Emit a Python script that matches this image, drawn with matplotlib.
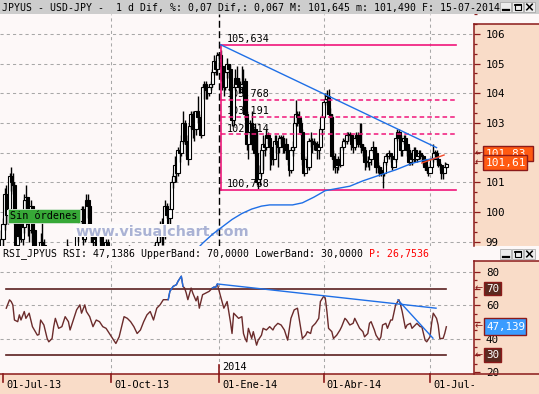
import numpy as np
import pandas as pd
import matplotlib
matplotlib.use("Agg")
import matplotlib.pyplot as plt
from matplotlib.patches import Rectangle
from matplotlib.lines import Line2D
from matplotlib.transforms import blended_transform_factory, offset_copy

plt.rcParams['font.family'] = ['DejaVu Sans Mono']

# ---------------- data ----------------
# USD/JPY daily bars, one [high, low, close] per business day
jun13 = [[98.9, 97.6, 98.8], [99.4, 98.3, 99.1]]
jul13 = [[99.8, 98.6, 99.6], [100.8, 99.4, 100.6], [100.9, 99.6, 99.9], [100.3, 99.6, 100.1],
         [101.3, 99.9, 101.2], [101.5, 100.7, 101.0], [101.3, 100.6, 100.9], [101.0, 99.6, 99.7],
         [99.9, 98.5, 98.9], [99.6, 98.8, 99.2], [100.0, 99.1, 99.9], [100.0, 99.0, 99.1],
         [99.7, 98.9, 99.5], [100.6, 99.3, 100.4], [100.9, 100.1, 100.5], [100.1, 99.2, 99.6],
         [99.7, 99.0, 99.4], [100.4, 99.3, 100.2], [100.2, 99.0, 99.4], [99.4, 98.2, 98.3],
         [98.3, 97.6, 97.9], [98.3, 97.8, 98.0], [98.3, 97.6, 97.9]]
aug13 = [[99.3, 97.8, 99.0], [99.9, 98.8, 98.9], [99.1, 98.1, 98.3], [98.7, 97.6, 97.8],
         [98.0, 96.6, 96.7], [97.0, 96.1, 96.6], [96.9, 96.0, 96.2], [97.0, 95.8, 96.4],
         [98.3, 96.3, 98.1], [98.3, 97.6, 97.9], [98.1, 97.1, 97.3], [97.9, 97.2, 97.6],
         [97.8, 97.3, 97.6], [97.7, 97.0, 97.3], [97.8, 96.8, 97.6], [98.8, 97.6, 98.7],
         [99.1, 98.5, 98.7], [98.9, 98.3, 98.6], [98.6, 96.8, 97.1], [97.9, 96.9, 97.7],
         [98.5, 97.6, 98.3], [98.4, 97.9, 98.2]]
sep13 = [[99.6, 98.4, 99.5], [99.8, 99.0, 99.5], [99.9, 99.2, 99.7], [100.2, 99.3, 100.1],
         [100.2, 98.9, 99.1], [99.8, 99.0, 99.6], [100.6, 99.6, 100.4], [100.6, 99.8, 100.2],
         [100.2, 99.3, 99.5], [99.6, 99.0, 99.4], [99.3, 98.7, 99.0], [99.2, 98.8, 99.1],
         [99.3, 97.8, 97.9], [99.4, 97.8, 99.3], [99.4, 99.0, 99.2], [99.2, 98.6, 98.8],
         [98.9, 98.4, 98.5], [98.8, 98.3, 98.6], [99.1, 98.5, 99.0], [99.1, 98.2, 98.3],
         [98.5, 97.8, 98.3]]
oct13 = [[98.5, 97.6, 98.1], [98.2, 97.2, 97.4], [97.6, 96.9, 97.2], [97.6, 96.9, 97.5],
         [97.5, 96.6, 96.8], [97.3, 96.6, 97.0], [97.9, 96.9, 97.7], [98.4, 97.5, 98.2],
         [98.6, 98.1, 98.6], [98.6, 98.2, 98.4], [98.6, 98.0, 98.2], [98.9, 98.0, 98.7],
         [98.7, 97.6, 97.9], [98.1, 97.6, 97.7], [98.3, 97.7, 98.2], [98.4, 97.7, 98.1],
         [98.1, 97.2, 97.3], [97.6, 97.1, 97.4], [97.6, 97.1, 97.4], [97.8, 97.3, 97.6],
         [98.3, 97.5, 98.1], [98.6, 98.0, 98.3], [98.6, 98.1, 98.4]]
nov13 = [[98.8, 98.2, 98.7], [98.8, 98.3, 98.6], [98.8, 98.3, 98.6], [98.9, 98.4, 98.7],
         [99.0, 97.6, 97.9], [99.1, 97.9, 99.0], [99.3, 98.9, 99.2], [99.7, 99.0, 99.6],
         [99.8, 98.9, 99.2], [99.6, 98.9, 99.2], [100.4, 99.1, 100.2], [100.3, 99.8, 99.9],
         [100.1, 99.6, 99.8], [100.3, 99.4, 100.1], [101.1, 100.1, 101.0], [101.3, 100.8, 101.2],
         [101.9, 101.0, 101.6], [101.7, 101.0, 101.3], [102.2, 101.2, 102.1], [102.3, 101.7, 102.0],
         [102.6, 101.9, 102.4]]
dec13 = [[103.4, 102.3, 103.0], [103.1, 102.3, 102.4], [102.6, 101.9, 102.3], [102.6, 101.6, 101.8],
         [103.0, 101.9, 102.9], [103.4, 102.8, 103.3], [103.4, 102.5, 102.8], [103.0, 102.4, 102.8],
         [103.4, 102.6, 103.4], [103.9, 103.0, 103.2], [103.3, 102.8, 103.0], [103.1, 102.5, 102.6],
         [104.3, 102.6, 104.2], [104.4, 103.8, 104.3], [104.4, 103.8, 104.1], [104.2, 103.8, 104.0],
         [104.3, 103.9, 104.2], [104.4, 104.1, 104.3], [104.8, 104.2, 104.7], [105.3, 104.6, 105.1],
         [105.2, 104.6, 104.8], [105.4, 104.6, 105.3]]
jan14 = [[105.4, 105.1, 105.3], [105.44, 104.4, 104.9], [104.9, 104.1, 104.8], [104.9, 103.9, 104.2],
         [104.8, 104.1, 104.7], [105.2, 104.5, 105.0], [105.0, 104.5, 104.8], [105.0, 103.8, 104.1],
         [104.2, 102.9, 103.1], [104.3, 102.9, 104.2], [104.8, 104.1, 104.5], [104.9, 104.3, 104.3],
         [104.5, 104.0, 104.2], [104.4, 104.0, 104.2], [104.9, 104.0, 104.3], [104.8, 104.2, 104.4],
         [104.5, 103.1, 103.3], [103.4, 102.1, 102.3], [102.8, 101.8, 102.7], [103.1, 102.5, 103.0],
         [103.4, 102.1, 102.3], [103.0, 102.2, 102.8], [103.0, 101.9, 102.0]]
feb14 = [[102.7, 100.9, 101.0], [101.6, 100.76, 101.1], [101.6, 100.9, 101.3], [102.2, 101.2, 102.1],
         [102.6, 101.4, 102.3], [102.5, 101.9, 102.2], [102.8, 102.1, 102.6], [102.7, 102.3, 102.5],
         [102.5, 101.4, 102.2], [102.2, 101.6, 101.8], [102.2, 101.6, 101.8], [102.6, 101.8, 102.4],
         [102.6, 102.0, 102.3], [102.4, 101.5, 102.2], [102.6, 102.0, 102.5], [102.6, 102.3, 102.5],
         [102.6, 102.0, 102.2], [102.5, 102.0, 102.3], [102.5, 101.8, 102.1], [102.1, 101.6, 101.8]]
mar14 = [[101.8, 101.2, 101.4], [102.2, 101.3, 102.1], [102.4, 101.9, 102.2], [103.2, 102.1, 103.0],
         [103.76, 102.9, 103.3], [103.4, 102.9, 103.2], [103.4, 102.9, 103.0], [103.1, 102.6, 102.7],
         [102.8, 101.6, 101.8], [101.9, 101.2, 101.3], [101.8, 101.3, 101.8], [101.9, 101.4, 101.5],
         [102.5, 101.4, 102.4], [102.7, 102.2, 102.4], [102.5, 102.0, 102.3], [102.5, 102.1, 102.3],
         [102.4, 102.1, 102.3], [102.4, 101.8, 102.1], [102.3, 101.8, 102.2], [102.9, 102.2, 102.8],
         [103.3, 102.6, 103.2]]
apr14 = [[103.8, 103.2, 103.7], [104.0, 103.6, 103.8], [104.1, 103.7, 103.9], [104.13, 103.3, 103.3],
         [103.5, 103.0, 103.2], [103.3, 101.8, 101.9], [102.1, 101.4, 101.8], [102.0, 101.3, 101.5],
         [101.8, 101.3, 101.6], [101.9, 101.4, 101.8], [102.2, 101.5, 101.6], [102.3, 101.6, 102.2],
         [102.5, 102.1, 102.4], [102.5, 102.3, 102.4], [102.7, 102.3, 102.6], [102.7, 102.4, 102.6],
         [102.7, 102.4, 102.6], [102.6, 102.1, 102.3], [102.4, 102.0, 102.2], [102.6, 102.1, 102.5],
         [102.7, 102.4, 102.6], [102.7, 102.2, 102.3]]
may14 = [[103.0, 102.2, 102.3], [103.0, 102.0, 102.2], [102.3, 101.9, 102.1], [102.2, 101.4, 101.7],
         [101.9, 101.5, 101.7], [101.9, 101.5, 101.7], [101.9, 101.4, 101.8], [102.2, 101.6, 102.1],
         [102.4, 102.0, 102.2], [102.2, 101.9, 102.0], [102.1, 101.3, 101.5], [101.7, 101.3, 101.5],
         [101.6, 101.2, 101.4], [101.5, 101.2, 101.3], [101.4, 100.82, 101.3], [101.8, 101.2, 101.7],
         [102.0, 101.6, 101.9], [102.0, 101.8, 101.9], [102.1, 101.8, 102.0], [102.0, 101.7, 101.9],
         [101.9, 101.4, 101.5], [101.9, 101.5, 101.8]]
jun14 = [[102.5, 101.7, 102.5], [102.8, 102.4, 102.7], [102.8, 102.5, 102.5], [102.6, 101.9, 102.1],
         [102.5, 101.9, 102.4], [102.6, 102.3, 102.5], [102.6, 102.2, 102.3], [102.3, 101.9, 102.1],
         [102.2, 101.6, 101.7], [102.1, 101.6, 102.0], [102.0, 101.6, 101.8], [102.2, 101.7, 102.1],
         [102.2, 101.7, 101.8], [102.0, 101.7, 101.9], [102.1, 101.8, 102.0], [102.1, 101.8, 101.9],
         [102.0, 101.7, 101.9], [101.9, 101.6, 101.8], [101.8, 101.4, 101.5], [101.6, 101.3, 101.4],
         [101.5, 101.2, 101.3]]
jul14 = [[101.7, 101.3, 101.5], [101.9, 101.5, 101.8], [102.3, 101.7, 102.0], [102.1, 101.9, 102.0],
         [102.1, 101.7, 101.8], [101.8, 101.5, 101.6], [101.7, 101.4, 101.6], [101.6, 101.1, 101.3],
         [101.4, 101.1, 101.3], [101.7, 101.3, 101.5], [101.645, 101.49, 101.61]]
first_open = 97.7

bar_start, bar_end = "2013-06-27", "2014-07-15"
session_zero = "2013-07-01"

# moving average (session number since 01-Jul-13, value)
ma_session = [116, 122, 128, 134, 140, 146, 152, 158, 163, 170, 177, 183, 190, 197, 205,
              212, 220, 229, 240, 250, 258, 266]
ma_value = [98.6, 98.95, 99.25, 99.5, 99.75, 99.95, 100.1, 100.2, 100.24, 100.24, 100.24,
            100.31, 100.5, 100.72, 100.8, 100.87, 101.05, 101.22, 101.42, 101.64, 101.75, 101.83]

# RSI (session, value)
rsi_points = [(2, 58.3), (4, 63.3), (5, 62.3), (6, 60.3), (7, 51.2), (9, 50.2), (10, 54.3), (11, 51.2),
              (13, 56.3), (14, 52.2), (16, 55.3), (17, 51.2), (18, 47.2), (21, 42.1), (22, 42.5),
              (23, 51.2), (25, 48.2), (27, 40.1), (28, 38.1), (30, 40.1), (31, 47.2), (32, 52.2),
              (34, 46.2), (36, 47.2), (38, 53.2), (40, 50.2), (41, 45.2), (43, 51.2), (45, 57.3),
              (47, 60.3), (48, 55.3), (50, 60.3), (51, 56.3), (53, 53.2), (55, 47.2), (57, 51.2),
              (59, 50.2), (61, 47.2), (63, 46.2), (65, 43.1), (67, 40.1), (69, 37.1), (71, 41.1),
              (72, 45.2), (74, 53.2), (76, 52.2), (78, 50.2), (80, 47.2), (82, 43.1), (84, 45.2),
              (86, 50.2), (88, 54.3), (90, 56.3), (92, 51.2), (94, 58.3), (96, 60.3), (98, 63.4),
              (100, 63.4), (101, 63.4), (102, 68.4), (104, 71.4), (106, 72.4), (107, 74.5),
              (109, 77.5), (110, 71.4), (111, 70.4), (112, 67.4), (113, 63.4), (115, 70.4),
              (116, 67.4), (118, 62.7), (119, 65.4), (120, 58.3), (122, 66.4), (124, 67.4),
              (126, 68.4), (128, 70.4), (129, 71.0), (130, 70.8), (131, 72.8), (133, 65.4),
              (135, 58.3), (137, 62.3), (139, 50.2), (140, 43.1), (141, 55.3), (143, 53.2),
              (144, 52.2), (146, 53.2), (147, 43.1), (148, 40.1), (149, 38.1), (150, 46.2),
              (152, 40.1), (153, 44.2), (155, 36.1), (156, 39.1), (158, 42.1), (159, 46.2),
              (161, 45.2), (163, 47.2), (165, 45.2), (166, 47.2), (168, 49.2), (170, 48.2),
              (172, 45.2), (174, 39.1), (176, 52.2), (178, 57.3), (180, 58.3), (181, 52.2),
              (183, 40.1), (185, 42.1), (186, 44.2), (188, 43.1), (189, 47.2), (191, 49.2),
              (193, 52.2), (194, 62.3), (196, 65.4), (197, 64.4), (198, 56.3), (199, 46.2),
              (201, 44.2), (202, 40.1), (204, 42.1), (206, 45.2), (207, 47.2), (209, 52.2),
              (210, 51.2), (212, 48.2), (214, 49.2), (215, 52.2), (217, 48.2), (218, 46.2),
              (220, 44.2), (221, 41.1), (223, 43.1), (224, 49.2), (225, 50.2), (227, 45.2),
              (228, 42.1), (230, 39.1), (231, 41.1), (232, 48.2), (234, 49.2), (235, 46.2),
              (237, 51.2), (238, 51.2), (240, 60.3), (242, 63.4), (243, 60.3), (244, 56.3),
              (246, 46.2), (247, 48.2), (249, 49.2), (250, 46.2), (252, 48.2), (253, 49.2),
              (255, 47.2), (256, 47.2), (257, 43.1), (258, 39.1), (259, 38.1), (261, 41.1),
              (262, 49.2), (263, 55.3), (265, 52.2), (266, 48.2), (267, 40.1), (269, 40.1),
              (270, 43.1), (271, 47.14)]
rsi_blue_ranges = [(101, 110), (128, 131)]
rsi_upper, rsi_lower = 70, 30

fib_levels = [105.634, 103.768, 103.191, 102.614, 100.758]
fib_labels = ["105,634", "103,768", "103,191", "102,614", "100,758"]
fib_dashed = [False, True, True, True, False]
fib_session = (133, 277)

trend_price = ([133, 265], [105.634, 102.17])
trend_red = ([256, 269.6], [101.65, 101.92])
trend_rsi_1 = ([131.5, 264.7], [72.8, 58.3])
trend_rsi_2 = ([241.4, 262.8], [63.3, 40.3])

date_ticks = ["2013-07-01", "2013-10-01", "2014-01-01", "2014-04-01", "2014-07-01"]
date_labels = ["01-Jul-13", "01-Oct-13", "01-Ene-14", "01-Abr-14", "01-Jul-14"]
year_tick, year_label = "2014-01-01", "2014"

price_ticks = list(range(99, 107))
rsi_ticks = [20, 30, 40, 50, 60, 70, 80]
rsi_tick_labels = ["20", "", "40", "", "60", "", "80"]

title = "JPYUS - USD-JPY -  1 d Dif, %: 0,07 Dif,: 0,067 M: 101,645 m: 101,490 F: 15-07-2014"
rsi_header = "RSI_JPYUS RSI: 47,1386 UpperBand: 70,0000 LowerBand: 30,0000"
rsi_header_red = "P: 26,7536"
last_ma, last_close, last_rsi = 101.83, 101.61, 47.139
no_orders = "Sin órdenes"
watermark = "www.visualchart.com"

# ---------------- derived ----------------
bars = np.array(jun13 + jul13 + aug13 + sep13 + oct13 + nov13 + dec13 + jan14 +
                feb14 + mar14 + apr14 + may14 + jun14 + jul14)
dates = pd.bdate_range(bar_start, bar_end)
assert len(dates) == len(bars), (len(dates), len(bars))
zero = dates.get_loc(pd.Timestamp(session_zero))
sess = np.arange(len(dates)) - zero
highs, lows, closes = bars.T
opens = np.r_[first_open, closes[:-1]]


def pos(d):
    return dates.get_loc(pd.Timestamp(d)) - zero


rsi_s, rsi_v = np.array(rsi_points).T

# ---------------- style / layout ----------------
W, H = 539, 394
bg = '#fdf8f8'
peach = '#f9dcc8'
darkred = '#8b1a1a'
gridc = '#a8a8a8'
pink = '#f0157a'
blue = '#1f6fe6'
brown = '#6b2b2b'
bandc = '#5a1f1f'
XMIN, XMAX = -1.83, 287.9
PY = (98.857, 106.655)
RY = (18.77, 86.64)

fig = plt.figure(figsize=(W / 100, H / 100), dpi=100)
fig.patch.set_facecolor(bg)


def rect(x0, y0, x1, y1):
    return [x0 / W, 1 - y1 / H, (x1 - x0) / W, (y1 - y0) / H]


def fline(xs, ys, **kw):
    fig.add_artist(Line2D([x / W for x in xs], [1 - y / H for y in ys],
                          transform=fig.transFigure, **kw))


def frect(x0, y0, x1, y1, **kw):
    fig.add_artist(Rectangle((x0 / W, 1 - y1 / H), (x1 - x0) / W, (y1 - y0) / H,
                             transform=fig.transFigure, **kw))


def ftext(x, y, s, **kw):
    return fig.text(x / W, 1 - y / H, s, **kw)


def price_px(v):
    return 14 + (PY[1] - v) / (PY[1] - PY[0]) * (246 - 14)


def rsi_px(v):
    return 261 + (RY[1] - v) / (RY[1] - RY[0]) * (374 - 261)


# title bar
frect(0, 0, 539, 14, fc='#cdcdcd', ec='none', zorder=1)
ftext(2, 7.5, title, fontsize=7.15, va='center', ha='left', zorder=2)


def buttons(y0):
    for x0 in (500, 512, 524):
        frect(x0, y0, x0 + 11, y0 + 10, fc='#ececec', ec='#a0a0a0', lw=0.5, zorder=6)
    fline([503, 508.5], [y0 + 8, y0 + 8], color='k', lw=1.6, zorder=7)
    frect(514.5, y0 + 2, 520.5, y0 + 8, fc='none', ec='k', lw=0.8, zorder=7)
    fline([514.5, 520.5], [y0 + 2.6, y0 + 2.6], color='k', lw=1.3, zorder=7)
    fline([526.8, 532.2], [y0 + 2.2, y0 + 7.8], color='k', lw=1.1, zorder=7)
    fline([526.8, 532.2], [y0 + 7.8, y0 + 2.2], color='k', lw=1.1, zorder=7)


buttons(2)
buttons(249)

# right-hand panels and date strip backgrounds
frect(474, 24, 539, 246, fc=peach, ec='none', zorder=-1)
frect(474, 261, 539, 374, fc=peach, ec='none', zorder=-1)
frect(0, 374, 539, 394, fc=peach, ec='none', zorder=-1)
fline([474, 474], [24, 246], color=darkred, lw=1.1, zorder=5)
fline([474, 539], [24, 24], color=darkred, lw=1.1, zorder=5)
fline([474, 474], [261, 374], color=darkred, lw=1.1, zorder=5)
fline([474, 539], [261, 261], color=darkred, lw=1.1, zorder=5)
fline([0, 539], [374, 374], color=darkred, lw=1.1, zorder=5)

# ---------------- price panel ----------------
axp = fig.add_axes(rect(0, 14, 474, 246))
axp.set_facecolor(bg)
axp.set_xlim(XMIN, XMAX)
axp.set_ylim(*PY)
for s in axp.spines.values():
    s.set_visible(False)
axp.set_xticks([])
axp.yaxis.tick_right()
axp.set_yticks(price_ticks)
axp.set_yticks(np.arange(99, 106.7, 1 / 3), minor=True)
axp.tick_params(axis='y', which='major', direction='out', length=4.5, width=0.9,
                color=darkred, pad=4, labelsize=7.8)
axp.tick_params(axis='y', which='minor', direction='out', length=2.2, width=0.9, color=darkred)

for v in price_ticks:
    axp.axhline(v, color=gridc, lw=0.75, ls=(0, (3, 3)), zorder=1)
for d in date_ticks:
    if d == year_tick:
        axp.axvline(pos(d), color='k', lw=1.0, ls=(0, (5, 2.5)), zorder=6)
    elif pos(d) > 0:
        axp.axvline(pos(d), color=gridc, lw=0.75, ls=(0, (3, 3)), zorder=1)

# fib labels (under candles)
for lev, lbl in zip(fib_levels, fib_labels):
    axp.annotate(lbl, xy=(fib_session[0], lev), xytext=(4.3, 2.0), textcoords='offset points',
                 fontsize=7.3, va='baseline', ha='left', zorder=2)

# candles
for xi, oi, hi, lo_, ci in zip(sess, opens, highs, lows, closes):
    axp.plot([xi, xi], [lo_, hi], color='k', lw=1.0, zorder=3, solid_capstyle='butt')
    b0 = min(oi, ci)
    bh = max(abs(ci - oi), 0.015)
    axp.add_patch(Rectangle((xi - 1.0, b0), 2.0, bh, fc='white' if ci >= oi else 'black',
                            ec='black', lw=0.8, zorder=3))

# watermark (covers candles, under lines)
axp.add_patch(Rectangle((73 / W, 1 - 237 / H), 177 / W, 13.5 / H, transform=fig.transFigure,
                        fc='#fdfbfb', ec='none', zorder=4.5))
axp.text(75 / W, 1 - 235.5 / H, watermark, transform=fig.transFigure, fontsize=10.4,
         family='DejaVu Sans', weight='bold', color='#aab2d4', va='baseline', ha='left', zorder=4.6)

# fib lines
for lev, dsh in zip(fib_levels, fib_dashed):
    axp.plot(fib_session, [lev, lev], color=pink, lw=1.1 if dsh else 1.2,
             ls=(0, (3, 2)) if dsh else '-', zorder=5)
axp.plot([fib_session[0], fib_session[0]], [fib_levels[-1], fib_levels[0]], color=pink, lw=1.2, zorder=5)

# MA and trendlines
axp.plot(ma_session, ma_value, color=blue, lw=1.0, zorder=6)
axp.plot(*trend_price, color=blue, lw=1.0, zorder=6)
axp.plot(*trend_red, color='#f24a2a', lw=1.0, zorder=6)

# ---------------- RSI panel ----------------
axr = fig.add_axes(rect(0, 261, 474, 374))
axr.set_facecolor(bg)
axr.set_xlim(XMIN, XMAX)
axr.set_ylim(*RY)
for s in axr.spines.values():
    s.set_visible(False)
axr.set_xticks([])
axr.yaxis.tick_right()
axr.set_yticks(rsi_ticks)
axr.set_yticklabels(rsi_tick_labels)
axr.set_yticks(np.arange(25, 80, 10), minor=True)
axr.tick_params(axis='y', which='major', direction='out', length=4.5, width=0.9,
                color=darkred, pad=4, labelsize=7.8)
axr.tick_params(axis='y', which='minor', direction='out', length=2.2, width=0.9, color=darkred)

for v in (80, 60, 40):
    axr.axhline(v, color=gridc, lw=0.75, ls=(0, (3, 3)), zorder=1)
for d in date_ticks:
    if pos(d) > 0:
        axr.axvline(pos(d), color=gridc, lw=0.75, ls=(0, (3, 3)), zorder=1)
for v in (rsi_upper, rsi_lower):
    axr.plot([rsi_s[0], rsi_s[-1]], [v, v], color=bandc, lw=1.2, zorder=2)

axr.plot(rsi_s, rsi_v, color=brown, lw=1.0, zorder=3)
for a, b in rsi_blue_ranges:
    m = (rsi_s >= a) & (rsi_s <= b)
    axr.plot(rsi_s[m], rsi_v[m], color=blue, lw=1.0, zorder=3.5)
axr.plot(*trend_rsi_1, color=blue, lw=1.0, zorder=4)
axr.plot(*trend_rsi_2, color=blue, lw=1.0, zorder=4)

trans = blended_transform_factory(axr.transData, axr.transAxes)
p_year = pos(year_tick)
axr.plot([p_year, p_year], [0, 9 / 113], transform=trans, color=darkred, lw=1.2,
         clip_on=False, zorder=5)
axr.text(p_year, 7.5 / 113, year_label, transform=offset_copy(trans, fig=fig, x=3, y=0, units='dots'),
         fontsize=7.4, va='center', ha='left', zorder=5)

# ---------------- date strip ----------------
axd = fig.add_axes(rect(0, 374, 474, 394))
axd.set_xlim(XMIN, XMAX)
axd.set_ylim(20, 0)
axd.axis('off')
for d, lbl in zip(date_ticks, date_labels):
    axd.plot([pos(d), pos(d)], [0, 8], color=darkred, lw=1.2, clip_on=False)
    axd.text(pos(d), 10.5, lbl, transform=offset_copy(axd.transData, fig=fig, x=3, y=0, units='dots'),
             fontsize=7.4, va='center', ha='left', clip_on=True)

# ---------------- value boxes on the right axes ----------------
y_ma = price_px(last_ma) - 4
frect(483, y_ma - 7.5, 533, y_ma + 7.5, fc='#ff5a12', ec=darkred, lw=1.0, zorder=6)
ftext(486, y_ma, f"{last_ma:.2f}".replace('.', ','), color='white', fontsize=8, va='center', zorder=7)
ftext(479, y_ma, '←', color=darkred, fontsize=7, family='DejaVu Sans', ha='center', va='center', zorder=7)
y_cl = price_px(last_close) - 1.5
frect(483, y_cl - 7.5, 527, y_cl + 7.5, fc='#ff5a12', ec=darkred, lw=1.0, zorder=8)
ftext(486, y_cl, f"{last_close:.2f}".replace('.', ','), color='white', fontsize=8, va='center', zorder=9)
ftext(479, y_cl, '←', color=darkred, fontsize=7, family='DejaVu Sans', ha='center', va='center', zorder=9)

for v, fc, x1, hh in ((rsi_upper, '#5b2a20', 501, 6.5), (rsi_lower, '#5b2a20', 501, 7),
                      (last_rsi, '#3a9cff', 526, 8.5)):
    yy = rsi_px(v)
    frect(484, yy - hh, x1, yy + hh, fc=fc, ec=darkred, lw=1.0, zorder=8)
    txt = f"{v:.3f}".replace('.', ',') if v == last_rsi else str(v)
    ftext(486.5, yy, txt, color='white', fontsize=7.8, va='center', zorder=9)
    ftext(479, yy, '←', color=darkred, fontsize=7, family='DejaVu Sans', ha='center', va='center', zorder=9)

# ---------------- annotations ----------------
frect(8, 209, 80, 223, fc='#37a837', ec='#d8e8d8', lw=0.6, zorder=8)
ftext(10, 216, no_orders, fontsize=7.3, va='center', ha='left', color='black', zorder=9)

hdr = ftext(3, 254, rsi_header, fontsize=7.15, va='center', ha='left', zorder=5)
fig.canvas.draw()
bb = hdr.get_window_extent()
cw = bb.width / len(rsi_header)
ftext(bb.x1 + cw, 254, rsi_header_red, fontsize=7.15, va='center', ha='left', color='red', zorder=5)

fig.savefig('out.png', dpi=100, facecolor=fig.get_facecolor())
